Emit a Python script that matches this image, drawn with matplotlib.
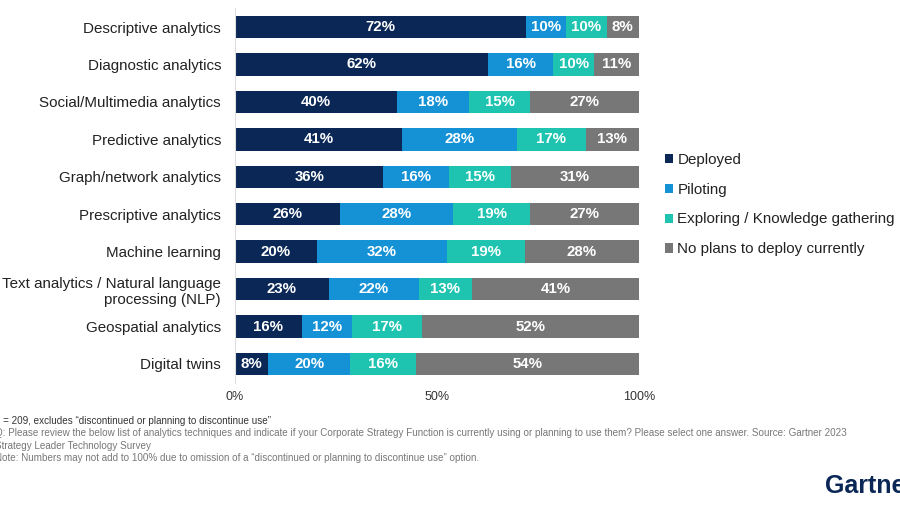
import numpy as np
import matplotlib.pyplot as plt

plt.rcParams['font.family'] = ['Liberation Sans', 'DejaVu Sans']

categories = ['Descriptive analytics', 'Diagnostic analytics', 'Social/Multimedia analytics',
              'Predictive analytics', 'Graph/network analytics', 'Prescriptive analytics',
              'Machine learning', 'Text analytics / Natural language\nprocessing (NLP)',
              'Geospatial analytics', 'Digital twins']
deployed = [72, 62, 40, 41, 36, 26, 20, 23, 16, 8]
piloting = [10, 16, 18, 28, 16, 28, 32, 22, 12, 20]
exploring = [10, 10, 15, 17, 15, 19, 19, 13, 17, 16]
no_plans = [8, 11, 27, 13, 31, 27, 28, 41, 52, 54]
series_names = ['Deployed', 'Piloting', 'Exploring / Knowledge gathering', 'No plans to deploy currently']
colors = ['#0a2756', '#1592d6', '#1fc4b1', '#777777']

fig = plt.figure(figsize=(9, 5.07), dpi=100)
ax = fig.add_axes([235 / 900, 1 - 382.7 / 507, 404 / 900, 374.4 / 507])

vals = np.array([deployed, piloting, exploring, no_plans], dtype=float)
# bars in the source fill the full width, so scale each row to 100
widths = vals / vals.sum(axis=0) * 100
y = np.arange(len(categories))
left = np.zeros(len(categories))
for i in range(4):
    bars = ax.barh(y, widths[i], left=left, height=0.6, color=colors[i], label=series_names[i])
    for j, b in enumerate(bars):
        ax.text(left[j] + widths[i][j] / 2, y[j], f'{int(vals[i][j])}%', ha='center', va='center',
                color='white', fontsize=10.8, fontweight='bold')
    left += widths[i]

ax.set_ylim(9.5, -0.5)
ax.set_xlim(0, 100)
ax.set_yticks(y)
ax.set_yticklabels(categories, fontsize=10.9, color='#222222', linespacing=1.2)
ax.set_xticks([0, 50, 100])
ax.set_xticklabels(['0%', '50%', '100%'], fontsize=9, color='#333333')
ax.tick_params(axis='both', length=0)
ax.tick_params(axis='x', pad=6)
ax.tick_params(axis='y', pad=10)
for s in ['top', 'right', 'bottom']:
    ax.spines[s].set_visible(False)
ax.spines['left'].set_color('#dddddd')
ax.spines['left'].set_linewidth(0.8)

ax.legend(loc='upper left', bbox_to_anchor=(651 / 900, 1 - 139 / 507), bbox_transform=fig.transFigure,
          frameon=False, fontsize=10.9, handlelength=0.55, handleheight=0.55, handletextpad=0.3,
          labelspacing=1.05, labelcolor='#222222')

notes = [('n = 209, excludes \u201cdiscontinued or planning to discontinue use\u201d', '#333333'),
         ('Q: Please review the below list of analytics techniques and indicate if your Corporate Strategy Function is currently using or planning to use them? Please select one answer. Source: Gartner 2023', '#777777'),
         ('Strategy Leader Technology Survey', '#777777'),
         ('Note: Numbers may not add to 100% due to omission of a \u201cdiscontinued or planning to discontinue use\u201d option.', '#777777')]
for k, (t, c) in enumerate(notes):
    fig.text(-5 / 900, 1 - (421 + k * 12.4) / 507, t, fontsize=7.1, color=c, va='center', ha='left')

fig.text(825 / 900, 1 - 486 / 507, 'Gartner', fontsize=18, fontweight='bold', color='#0a2756',
         va='center', ha='left')

fig.savefig('out.png', dpi=100)
